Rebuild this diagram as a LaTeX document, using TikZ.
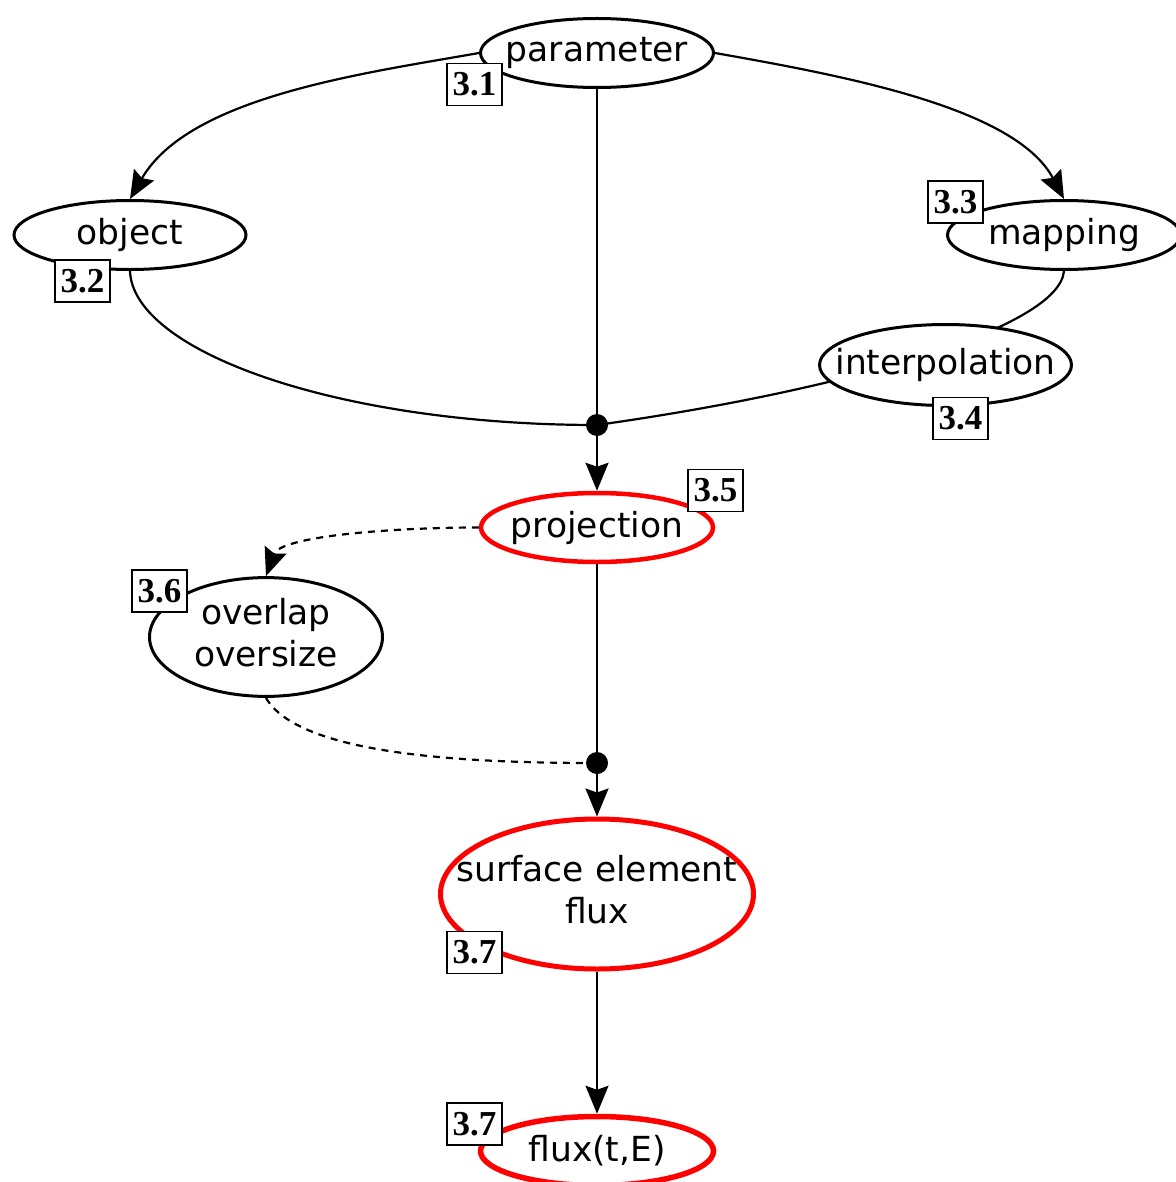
\documentclass[tikz,border=0pt]{standalone}
\usepackage{fontspec}
\setmainfont{DejaVu Sans}
\newfontfamily\labfont{Liberation Serif}
\usetikzlibrary{shapes.geometric,arrows.meta}
\pgfdeclarelayer{bg}
\pgfsetlayers{bg,main}
\newcommand\zwbox[1]{\makebox[0pt]{#1}}
\newcommand\twolines[2]{\makebox[0pt]{\begin{tabular}{@{}c@{}}#1\\#2\end{tabular}}}
\begin{document}
\begin{tikzpicture}[x=1pt,y=1pt,
  every node/.style={font=\fontsize{34.5}{42}\selectfont},
  ell/.style={ellipse, draw, line width=3pt, fill=white, inner sep=0pt},
  redell/.style={ell, draw=red, line width=4.5pt},
  tag/.style={draw, line width=1.8pt, fill=white, inner sep=0pt, minimum width=55pt, minimum height=42pt, font={\labfont\bfseries\fontsize{35}{35}\selectfont}},
  jdot/.style={circle, fill=black, inner sep=0pt, minimum size=22pt},
  conn/.style={line width=2.2pt},
  arr/.style={conn, -{Stealth[length=28pt,width=23pt,inset=4pt]}},
  dconn/.style={conn, dash pattern=on 7pt off 6pt},
  darr/.style={arr, dash pattern=on 7pt off 6pt},
]
\useasboundingbox (0,0) rectangle (1175,-1182);

\node[ell, minimum width=233pt, minimum height=69pt] (param) at (597,-53) {\zwbox{parameter}};
\node[ell, minimum width=232pt, minimum height=69pt] (obj) at (130,-235) {\zwbox{object}};
\node[ell, minimum width=233pt, minimum height=69pt] (map) at (1064,-235) {\zwbox{mapping}};
\node[ell, minimum width=252pt, minimum height=81pt] (interp) at (945.5,-365) {\zwbox{interpolation}};
\node[jdot] (d1) at (597,-425) {};
\node[redell, minimum width=232pt, minimum height=69pt] (proj) at (597,-527.5) {\zwbox{projection}};
\node[ell, minimum width=233pt, minimum height=112pt] (ovl) at (266,-637) {\twolines{overlap}{oversize}};
\node[jdot] (d2) at (597,-763) {};
\node[redell, line width=5pt, minimum width=313pt, minimum height=150pt] (surf) at (597,-894) {\twolines{surface element}{flux}};
\node[redell, line width=5.5pt, minimum width=233pt, minimum height=69pt] (flux) at (597,-1151) {\zwbox{flux(t,E)}};

\node[tag] (t1) at (474.5,-84.5) {3.1};
\node[tag] (t2) at (82.5,-281) {3.2};
\node[tag] (t3) at (955.5,-202) {3.3};
\node[tag] (t4) at (960.5,-418.5) {3.4};
\node[tag] (t5) at (715.5,-490.5) {3.5};
\node[tag] (t6) at (159.5,-591) {3.6};
\node[tag] (t7) at (474.5,-952.5) {3.7};
\node[tag] (t8) at (474.5,-1124) {3.7};

\begin{pgfonlayer}{bg}
\fill[white] (0,0) rectangle (1175,-1182);
\draw[arr] (param.west) to[out=190,in=60,looseness=0.8] (obj.north);
\draw[arr] (param.east) to[out=-10,in=118,out looseness=0.9,in looseness=0.7] (map.north);
\draw[conn] (param.south) -- (d1.center);
\draw[conn] (obj.south) to[out=-88,in=180,out looseness=0.42,in looseness=1.35] (d1.center);
\draw[conn] (map.south) to[out=-95,in=8,out looseness=0.3,in looseness=1.3] (d1.center);
\draw[arr] (d1) -- (proj.north);
\draw[darr] (proj.west) to[out=180,in=70,out looseness=1,in looseness=0.5] (ovl.north);
\draw[dconn] (ovl.south) to[out=-60,in=180,out looseness=0.5,in looseness=1] (d2.center);
\draw[conn] (proj.south) -- (d2.center);
\draw[arr] (d2) -- (surf.north);
\draw[arr] (surf.south) -- (flux.north);
\end{pgfonlayer}
\end{tikzpicture}
\end{document}
